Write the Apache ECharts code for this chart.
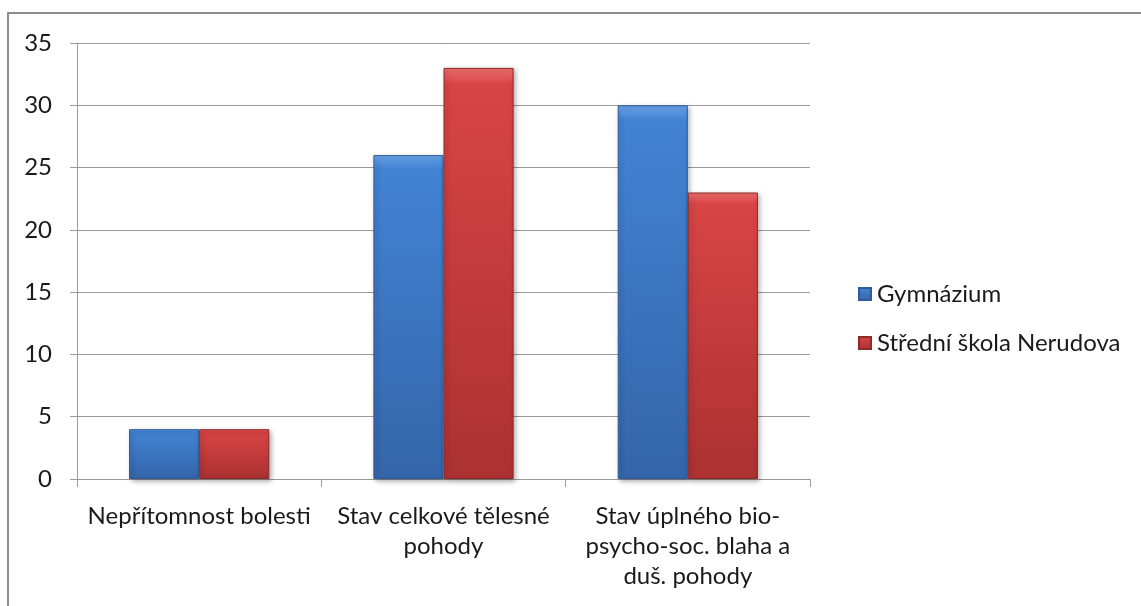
<!DOCTYPE html>
<html>
<head>
<meta charset="utf-8">
<script src="https://cdn.jsdelivr.net/npm/echarts@6/dist/echarts.min.js"></script>
<style>
  html, body { margin: 0; padding: 0; background: #fff; }
  #chart { width: 1141px; height: 606px; }
</style>
</head>
<body>
<div id="chart"></div>
<script>
// Categories (answers) and counts per school
const categories = [
  'Nepřítomnost bolesti',
  'Stav celkové tělesné\npohody',
  'Stav úplného bio-\npsycho-soc. blaha a\nduš. pohody'
];
const gymnazium = [4, 26, 30];
const nerudova = [4, 33, 23];
const seriesNames = ['Gymnázium', 'Střední škola Nerudova'];

const FONT = 'Lato, "Open Sans", sans-serif';

// Vertical gradient giving the bars a light top bevel and darker base
function bevel(light, mid, dark) {
  return {
    type: 'linear', x: 0, y: 0, x2: 0, y2: 1,
    colorStops: [
      { offset: 0, color: light },
      { offset: 0.04, color: mid },
      { offset: 0.96, color: dark },
      { offset: 1, color: dark }
    ]
  };
}

const chart = echarts.init(document.getElementById('chart'), null, { renderer: 'canvas' });

chart.setOption({
  animation: false,
  backgroundColor: '#ffffff',
  textStyle: { fontFamily: FONT },
  graphic: [{
    type: 'rect',
    shape: { x: 8, y: 13, width: 1200, height: 700 },
    style: { fill: 'none', stroke: '#8c8c8c', lineWidth: 2 },
    silent: true
  }],
  grid: { left: 77, right: 331, top: 43, bottom: 127, containLabel: false },
  legend: {
    orient: 'vertical',
    left: 853,
    top: 276,
    itemWidth: 12,
    itemHeight: 12,
    itemGap: 23,
    icon: 'rect',
    textStyle: { fontFamily: FONT, fontSize: 24, lineHeight: 26, color: '#1a1a1a', padding: [0, 0, 0, 1] },
    data: seriesNames
  },
  xAxis: {
    type: 'category',
    data: categories,
    axisLine: { lineStyle: { color: '#9a9a9a', width: 1 } },
    axisTick: { show: true, length: 8, alignWithLabel: false, lineStyle: { color: '#9a9a9a' } },
    axisLabel: {
      interval: 0,
      margin: 22,
      fontFamily: FONT,
      fontSize: 24,
      lineHeight: 30,
      color: '#1a1a1a',
      align: 'center',
      verticalAlign: 'top'
    }
  },
  yAxis: {
    type: 'value',
    min: 0,
    max: 35,
    interval: 5,
    axisLine: { show: true, lineStyle: { color: '#9a9a9a', width: 1 } },
    axisTick: { show: true, length: 7, lineStyle: { color: '#9a9a9a' } },
    splitLine: { show: true, lineStyle: { color: '#9a9a9a', width: 1 } },
    axisLabel: { margin: 25, fontFamily: FONT, fontSize: 24, color: '#1a1a1a' }
  },
  series: [
    {
      name: seriesNames[0],
      type: 'bar',
      data: gymnazium,
      barWidth: '28.7%',
      barGap: '0%',
      itemStyle: {
        color: bevel('#6aa6ec', '#4283d4', '#3566ab'),
        borderColor: '#2e5b99',
        borderWidth: 1,
        shadowColor: 'rgba(0,0,0,0.35)',
        shadowBlur: 5,
        shadowOffsetX: 2,
        shadowOffsetY: 2
      }
    },
    {
      name: seriesNames[1],
      type: 'bar',
      data: nerudova,
      barWidth: '28.7%',
      barGap: '0%',
      itemStyle: {
        color: bevel('#f07070', '#d94444', '#ad3232'),
        borderColor: '#8f2a2a',
        borderWidth: 1,
        shadowColor: 'rgba(0,0,0,0.35)',
        shadowBlur: 5,
        shadowOffsetX: 2,
        shadowOffsetY: 2
      }
    }
  ]
});
</script>
</body>
</html>
